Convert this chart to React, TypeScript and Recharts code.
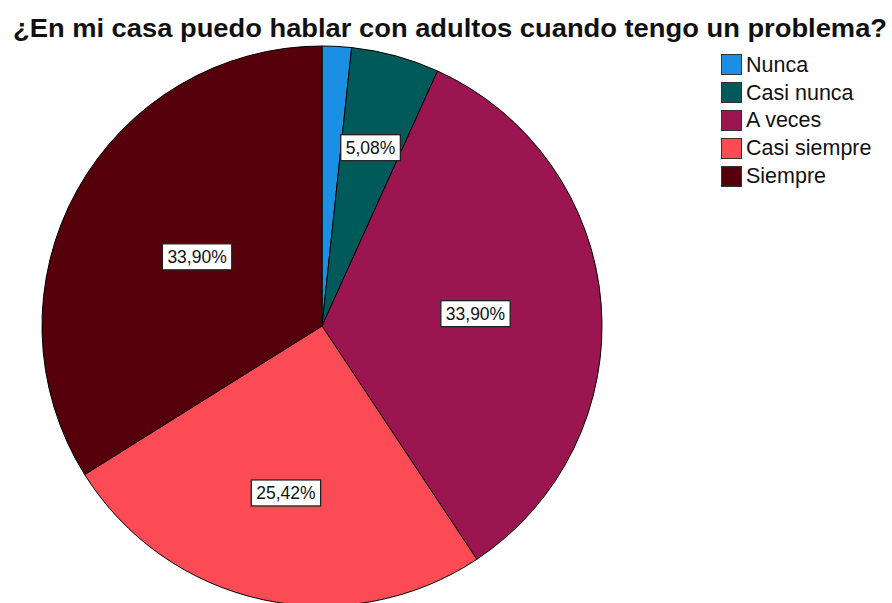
import React from 'react';
import { PieChart, Pie, Cell, Legend } from 'recharts';

const title = '¿En mi casa puedo hablar con adultos cuando tengo un problema?';
const categories = ['Nunca', 'Casi nunca', 'A veces', 'Casi siempre', 'Siempre'];
const percents = [1.69, 5.08, 33.9, 25.42, 33.9];
const showLabel = [false, true, true, true, true];
const colors = ['#1a8fe3', '#015a5a', '#9b1650', '#fd4b55', '#55000a'];
const labelRadiusFrac = [0.6, 0.66, 0.55, 0.61, 0.51];

const data = categories.map((name, i) => ({ name, value: percents[i] }));

const RADIAN = Math.PI / 180;
const FONT = '"Liberation Sans", Arial, sans-serif';

const charW = (c: string) => (c === ',' ? 0.278 : c === '%' ? 0.889 : 0.556);

const renderLabel = (props: any) => {
  const { cx, cy, midAngle, outerRadius, index, value } = props;
  if (!showLabel[index]) return null;
  const r = outerRadius * labelRadiusFrac[index];
  const x = cx + r * Math.cos(-midAngle * RADIAN);
  const y = cy + r * Math.sin(-midAngle * RADIAN);
  const txt = Number(value).toFixed(2).replace('.', ',') + '%';
  const fs = 17.5;
  const w = txt.split('').reduce((s, c) => s + charW(c), 0) * fs + 10;
  const h = 26;
  return (
    <g>
      <rect x={x - w / 2} y={y - h / 2} width={w} height={h} fill="#ffffff" stroke="#222" strokeWidth={1.3} />
      <text x={x} y={y + 6.5} textAnchor="middle" fontSize={fs} fontFamily={FONT} fill="#111">
        {txt}
      </text>
    </g>
  );
};

const LegendContent = () => (
  <div style={{ fontFamily: FONT, fontSize: 21.5, color: '#111' }}>
    {categories.map((c, i) => (
      <div key={c} style={{ display: 'flex', alignItems: 'center', height: 27.8 }}>
        <div
          style={{
            width: 21,
            height: 21,
            background: colors[i],
            border: '1.5px solid #333',
            marginRight: 4,
            boxSizing: 'border-box',
          }}
        />
        <span style={{ lineHeight: '22px' }}>{c}</span>
      </div>
    ))}
  </div>
);

export default function App() {
  return (
    <div style={{ position: 'absolute', left: 0, top: 0, width: 892, height: 603, background: '#fff', overflow: 'hidden' }}>
      <svg width={892} height={50} style={{ position: 'absolute', left: 0, top: 0 }}>
        <text
          x={450}
          y={37}
          textAnchor="middle"
          fontSize={26}
          fontWeight="bold"
          fontFamily={FONT}
          fill="#111"
          textLength={874}
          lengthAdjust="spacingAndGlyphs"
        >
          {title}
        </text>
      </svg>
      <div style={{ position: 'absolute', left: 0, top: 0 }}>
        <PieChart width={892} height={603} margin={{ top: 0, right: 0, bottom: 0, left: 0 }}>
          <Pie
            data={data}
            dataKey="value"
            nameKey="name"
            cx={322}
            cy={326}
            outerRadius={280}
            startAngle={90}
            endAngle={-270}
            stroke="#000"
            strokeWidth={1}
            label={renderLabel}
            labelLine={false}
            isAnimationActive={false}
          >
            {data.map((d, i) => (
              <Cell key={d.name} fill={colors[i]} />
            ))}
          </Pie>
          <Legend
            layout="vertical"
            verticalAlign="top"
            align="right"
            content={<LegendContent />}
            wrapperStyle={{ position: 'absolute', left: 721, top: 51, width: 171 }}
          />
        </PieChart>
      </div>
    </div>
  );
}
